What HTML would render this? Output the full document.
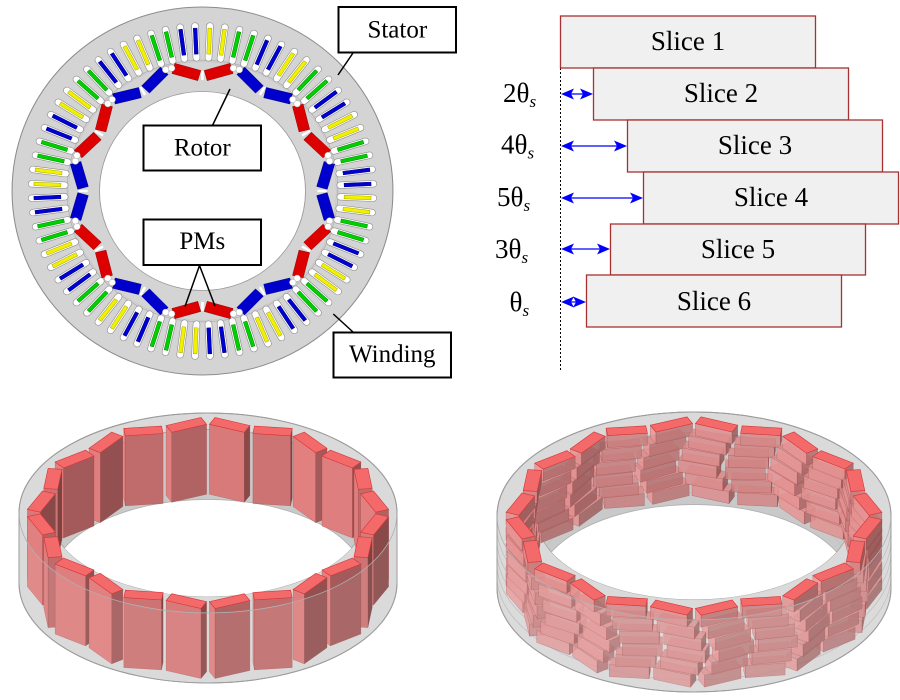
<!DOCTYPE html>
<html><head><meta charset="utf-8"><style>
html,body{margin:0;padding:0;background:#fff;}
svg{display:block;}
text{font-family:"Liberation Serif","Times New Roman","DejaVu Serif",serif;fill:#000;}
</style></head><body>
<svg xmlns="http://www.w3.org/2000/svg" width="900" height="700" viewBox="0 0 900 700" font-family="'Liberation Serif','Times New Roman','DejaVu Serif',serif">
<defs>
 <g id="sY"><rect x="-3.3" y="-168.5" width="6.6" height="38.5" rx="3.3" fill="#fff" stroke="#8c8c8c" stroke-width="0.6"/><rect x="-1.8" y="-163" width="3.6" height="26" fill="#f2f200" stroke="#a6a600" stroke-width="0.5"/></g>
 <g id="sG"><rect x="-3.3" y="-168.5" width="6.6" height="38.5" rx="3.3" fill="#fff" stroke="#8c8c8c" stroke-width="0.6"/><rect x="-1.8" y="-163" width="3.6" height="26" fill="#00d000" stroke="#008800" stroke-width="0.5"/></g>
 <g id="sB"><rect x="-3.3" y="-168.5" width="6.6" height="38.5" rx="3.3" fill="#fff" stroke="#8c8c8c" stroke-width="0.6"/><rect x="-1.8" y="-163" width="3.6" height="26" fill="#0000d0" stroke="#000088" stroke-width="0.5"/></g>
 <g id="sg">
  <use href="#sY" transform="rotate(2.5)"/><use href="#sY" transform="rotate(7.5)"/>
  <use href="#sG" transform="rotate(12.5)"/><use href="#sG" transform="rotate(17.5)"/>
  <use href="#sB" transform="rotate(22.5)"/><use href="#sB" transform="rotate(27.5)"/>
 </g>
 <g id="pR">
  <rect x="-13" y="-5.3" width="26" height="10.6" fill="#dd0000" stroke="#8a0000" stroke-width="0.4" transform="translate(-15.6,-119) rotate(16)"/>
  <rect x="-13" y="-5.3" width="26" height="10.6" fill="#dd0000" stroke="#8a0000" stroke-width="0.4" transform="translate(15.6,-119) rotate(-16)"/>
  <circle cx="-29.8" cy="-122.8" r="3.2" fill="#fff" stroke="#999" stroke-width="0.4"/>
  <circle cx="29.8" cy="-122.8" r="3.2" fill="#fff" stroke="#999" stroke-width="0.4"/>
  <rect x="-1.2" y="-120" width="2.4" height="9" fill="#fff"/>
 </g>
 <g id="pB">
  <rect x="-13" y="-5.3" width="26" height="10.6" fill="#0000cc" stroke="#000080" stroke-width="0.4" transform="translate(-15.6,-119) rotate(16)"/>
  <rect x="-13" y="-5.3" width="26" height="10.6" fill="#0000cc" stroke="#000080" stroke-width="0.4" transform="translate(15.6,-119) rotate(-16)"/>
  <circle cx="-29.8" cy="-122.8" r="3.2" fill="#fff" stroke="#999" stroke-width="0.4"/>
  <circle cx="29.8" cy="-122.8" r="3.2" fill="#fff" stroke="#999" stroke-width="0.4"/>
  <rect x="-1.2" y="-120" width="2.4" height="9" fill="#fff"/>
 </g>
</defs>

<!-- Top-left motor cross-section -->
<g transform="translate(202.5,191) scale(1.035,1)">
 <circle r="184" fill="#d4d4d4" stroke="#8c8c8c" stroke-width="1"/>
 <circle r="130.8" fill="none" stroke="#b0b0b0" stroke-width="0.8"/>
 <circle r="129.3" fill="none" stroke="#c4c4c4" stroke-width="0.6"/>
 <use href="#sg" transform="rotate(0)"/><use href="#sg" transform="rotate(30)"/><use href="#sg" transform="rotate(60)"/>
 <use href="#sg" transform="rotate(90)"/><use href="#sg" transform="rotate(120)"/><use href="#sg" transform="rotate(150)"/>
 <use href="#sg" transform="rotate(180)"/><use href="#sg" transform="rotate(210)"/><use href="#sg" transform="rotate(240)"/>
 <use href="#sg" transform="rotate(270)"/><use href="#sg" transform="rotate(300)"/><use href="#sg" transform="rotate(330)"/>
 <circle r="99.5" fill="#fff" stroke="#9a9a9a" stroke-width="0.8"/>
 <use href="#pR" transform="rotate(0)"/><use href="#pB" transform="rotate(30)"/><use href="#pR" transform="rotate(60)"/>
 <use href="#pB" transform="rotate(90)"/><use href="#pR" transform="rotate(120)"/><use href="#pB" transform="rotate(150)"/>
 <use href="#pR" transform="rotate(180)"/><use href="#pB" transform="rotate(210)"/><use href="#pR" transform="rotate(240)"/>
 <use href="#pB" transform="rotate(270)"/><use href="#pR" transform="rotate(300)"/><use href="#pB" transform="rotate(330)"/>
</g>

<!-- labels top-left -->
<g stroke="#000" stroke-width="1.5" fill="none">
 <line x1="353" y1="53" x2="338" y2="75"/>
 <line x1="212.7" y1="125" x2="230" y2="89"/>
 <line x1="199.5" y1="265.5" x2="185" y2="306.5"/>
 <line x1="199.5" y1="265.5" x2="215" y2="306"/>
 <line x1="353" y1="332" x2="333.3" y2="314"/>
</g>
<g fill="#fff" stroke="#000" stroke-width="2">
 <rect x="338.5" y="7" width="117.5" height="45.5"/>
 <rect x="143.5" y="125.5" width="117.5" height="45"/>
 <rect x="143.5" y="219.5" width="117.5" height="45.5"/>
 <rect x="333.5" y="332.5" width="117.5" height="45"/>
</g>
<g font-size="25" text-anchor="middle" font-family="'Liberation Serif','Times New Roman','DejaVu Serif',serif">
 <text x="397.3" y="37.5">Stator</text>
 <text x="202.3" y="155.5">Rotor</text>
 <text x="202.3" y="249">PMs</text>
 <text x="392.3" y="362">Winding</text>
</g>

<!-- Top-right slices -->
<line x1="560.5" y1="16" x2="560.5" y2="370" stroke="#000" stroke-width="1" stroke-dasharray="2,2"/>
<g fill="#f0f0f0" stroke="#a83232" stroke-width="1.3">
 <rect x="560.5" y="16" width="255" height="52"/>
 <rect x="593.5" y="68" width="255" height="52"/>
 <rect x="627.5" y="120" width="255" height="52"/>
 <rect x="643.5" y="172" width="255" height="52"/>
 <rect x="610.5" y="224" width="255" height="51"/>
 <rect x="586.5" y="275" width="255" height="52"/>
</g>
<g font-size="27" text-anchor="middle" font-family="'Liberation Serif','Times New Roman','DejaVu Serif',serif">
 <text x="688" y="50">Slice 1</text>
 <text x="721" y="102">Slice 2</text>
 <text x="755" y="154">Slice 3</text>
 <text x="771" y="206">Slice 4</text>
 <text x="738" y="258">Slice 5</text>
 <text x="714" y="310">Slice 6</text>
</g>
<g fill="#0000ff" stroke="none">
 <polygon points="561,94 574,88.5 571,94 574,99.5"/><polygon points="593,94 580,88.5 583,94 580,99.5"/>
 <polygon points="561,146 574,140.5 571,146 574,151.5"/><polygon points="627,146 614,140.5 617,146 614,151.5"/>
 <polygon points="561,198 574,192.5 571,198 574,203.5"/><polygon points="643,198 630,192.5 633,198 630,203.5"/>
 <polygon points="561,249 574,243.5 571,249 574,254.5"/><polygon points="610,249 597,243.5 600,249 597,254.5"/>
 <polygon points="561,302 574,296.5 571,302 574,307.5"/><polygon points="586,302 573,296.5 576,302 573,307.5"/>
</g>
<g stroke="#0000ff" stroke-width="1.2">
 <line x1="568" y1="94" x2="586" y2="94"/>
 <line x1="568" y1="146" x2="620" y2="146"/>
 <line x1="568" y1="198" x2="636" y2="198"/>
 <line x1="568" y1="249" x2="603" y2="249"/>
 <line x1="566" y1="302" x2="581" y2="302"/>
</g>
<g font-size="27" font-family="'Liberation Serif','Times New Roman','DejaVu Serif',serif">
 <text x="503" y="102">2θ<tspan font-size="17" font-style="italic" dy="5">s</tspan></text>
 <text x="501" y="153.5">4θ<tspan font-size="17" font-style="italic" dy="5">s</tspan></text>
 <text x="497" y="206">5θ<tspan font-size="17" font-style="italic" dy="5">s</tspan></text>
 <text x="495" y="258">3θ<tspan font-size="17" font-style="italic" dy="5">s</tspan></text>
 <text x="509.5" y="311">θ<tspan font-size="17" font-style="italic" dy="5">s</tspan></text>
</g>

<g id="r3d"></g>
</svg>
<script>
(function(){
var NS='http://www.w3.org/2000/svg';
var root=document.getElementById('r3d');
function el(tag,attrs,parent){var e=document.createElementNS(NS,tag);for(var k in attrs)e.setAttribute(k,attrs[k]);(parent||root).appendChild(e);return e;}
var D=Math.PI/180;
function lerp(a,b,t){return Math.round(a+(b-a)*t);}
function ring(o){
 var cx=o.cx,cy=o.cy,Ro=o.Ro,Ri=o.Ri,k=o.k,H=o.H;
 var g=el('g',{});
 var ry=Ro*k, ri=Ri*k;
 el('path',{d:'M'+(cx-Ro)+','+cy+' A'+Ro+','+ry+' 0 0 1 '+(cx+Ro)+','+cy+' L'+(cx+Ro)+','+(cy+H)+' A'+Ro+','+ry+' 0 0 1 '+(cx-Ro)+','+(cy+H)+' Z',fill:'#dadada',stroke:'#9c9c9c','stroke-width':1},g);
 el('ellipse',{cx:cx,cy:cy,rx:Ri,ry:ri,fill:'#c9c9c9',stroke:'#a4a4a4','stroke-width':0.8},g);
 var cp=el('clipPath',{id:o.id+'c'},g);
 el('ellipse',{cx:cx,cy:cy,rx:Ri,ry:ri},cp);
 el('ellipse',{cx:cx,cy:cy+H,rx:Ri,ry:ri,fill:'#fff',stroke:'#b0b0b0','stroke-width':0.8,'clip-path':'url(#'+o.id+'c)'},g);
 var hs=H/o.slices;
 if(o.slices>1){
  for(var j=1;j<o.slices;j++){
   var yy=cy+j*hs;
   el('path',{d:'M'+(cx-Ro)+','+yy+' A'+Ro+','+ry+' 0 0 0 '+(cx+Ro)+','+yy,fill:'none',stroke:'#b4b4b4','stroke-width':0.7},g);
   el('path',{d:'M'+(cx-Ri)+','+yy+' A'+Ri+','+ri+' 0 0 1 '+(cx+Ri)+','+yy,fill:'none',stroke:'#bdbdbd','stroke-width':0.6,'clip-path':'url(#'+o.id+'c)'},g);
  }
 }
 var mags=[];
 var cb=Math.cos(o.beta*D), sb=Math.sin(o.beta*D);
 for(var p=0;p<12;p++){
  var tp=o.p0+30*p;
  [-1,1].forEach(function(s){
   var base=(tp+s*o.delta)*D;
   var key=o.rm*Math.cos(base);
   for(var j=0;j<o.slices;j++){
    var phi=base+o.offs[j]*o.ts*D;
    var ur=[Math.sin(phi),Math.cos(phi)], ut=[Math.cos(phi),-Math.sin(phi)];
    var a=[ut[0]*cb+s*ur[0]*sb, ut[1]*cb+s*ur[1]*sb];
    var n=[-s*ut[0]*sb+ur[0]*cb, -s*ut[1]*sb+ur[1]*cb];
    var C=[o.rm*ur[0],o.rm*ur[1]];
    var hl=o.L/2, ht=o.T/2;
    var cs=[[-1,-1],[1,-1],[1,1],[-1,1]].map(function(q){return [C[0]+q[0]*hl*a[0]+q[1]*ht*n[0], C[1]+q[0]*hl*a[1]+q[1]*ht*n[1]];});
    mags.push({key:key,j:j,z0:j*hs,z1:(j+1)*hs,cs:cs,C:C});
   }
  });
 }
 mags.sort(function(A,B){return (A.key-B.key)||(B.z0-A.z0);});
 function P(c,z){return (cx+c[0]).toFixed(1)+','+(cy+k*c[1]+z).toFixed(1);}
 var mg=el('g',{},g);
 mags.forEach(function(m){
  for(var i=0;i<4;i++){
   var A=m.cs[i],B=m.cs[(i+1)%4];
   var nx=B[1]-A[1], ny=-(B[0]-A[0]); var len=Math.sqrt(nx*nx+ny*ny); nx/=len; ny/=len;
   var mx=(A[0]+B[0])/2-m.C[0], my=(A[1]+B[1])/2-m.C[1];
   if(nx*mx+ny*my<0){nx=-nx;ny=-ny;}
   if(ny<=0.02) continue;
   var t=(nx*-0.85+ny*0.53+1)/2; t=Math.max(0,Math.min(1,t));
   var col='rgb('+lerp(o.dk[0],o.lt[0],t)+','+lerp(o.dk[1],o.lt[1],t)+','+lerp(o.dk[2],o.lt[2],t)+')';
   el('polygon',{points:P(A,m.z0)+' '+P(B,m.z0)+' '+P(B,m.z1)+' '+P(A,m.z1),fill:col,'fill-opacity':o.op,stroke:'#9a3c3c','stroke-width':0.4,'stroke-opacity':0.6},mg);
  }
  if(m.j===0){
   el('polygon',{points:m.cs.map(function(c){return P(c,m.z0);}).join(' '),fill:'#f46a6a',stroke:'#d43434','stroke-width':0.6},mg);
  } else {
   el('polygon',{points:m.cs.map(function(c){return P(c,m.z0);}).join(' '),fill:'#d98a8a','fill-opacity':o.op,stroke:'#b06060','stroke-width':0.4,'stroke-opacity':0.6},mg);
  }
 });
 el('path',{d:'M'+(cx-Ro)+','+cy+' A'+Ro+','+ry+' 0 0 0 '+(cx+Ro)+','+cy+' L'+(cx+Ro)+','+(cy+H)+' A'+Ro+','+ry+' 0 0 1 '+(cx-Ro)+','+(cy+H)+' Z',fill:'#e4e4e4','fill-opacity':o.ov,stroke:'none'},g);
 el('path',{d:'M'+(cx-Ro)+','+cy+' A'+Ro+','+ry+' 0 0 0 '+(cx+Ro)+','+cy,fill:'none',stroke:'#b0b0b0','stroke-width':0.8},g);
 el('path',{d:'M'+(cx-Ro)+','+cy+' A'+Ro+','+ry+' 0 0 1 '+(cx+Ro)+','+cy+' L'+(cx+Ro)+','+(cy+H)+' A'+Ro+','+ry+' 0 0 1 '+(cx-Ro)+','+(cy+H)+' Z',fill:'none',stroke:'#9c9c9c','stroke-width':1},g);
}
ring({id:'L',cx:208,cy:513,Ro:189,Ri:158,k:0.529,H:70,rm:168,L:38,T:14,delta:7.6,beta:16,p0:15,slices:1,offs:[0],ts:0,op:1,ov:0.1,dk:[112,58,58],lt:[226,128,128]});
ring({id:'R',cx:694,cy:516,Ro:197,Ri:158,k:0.528,H:72,rm:175,L:40,T:14,delta:7.6,beta:16,p0:15,slices:6,offs:[0,2,4,5,3,1],ts:1.1,op:0.85,ov:0.15,dk:[128,72,72],lt:[230,148,148]});
})();
</script>
</body></html>
